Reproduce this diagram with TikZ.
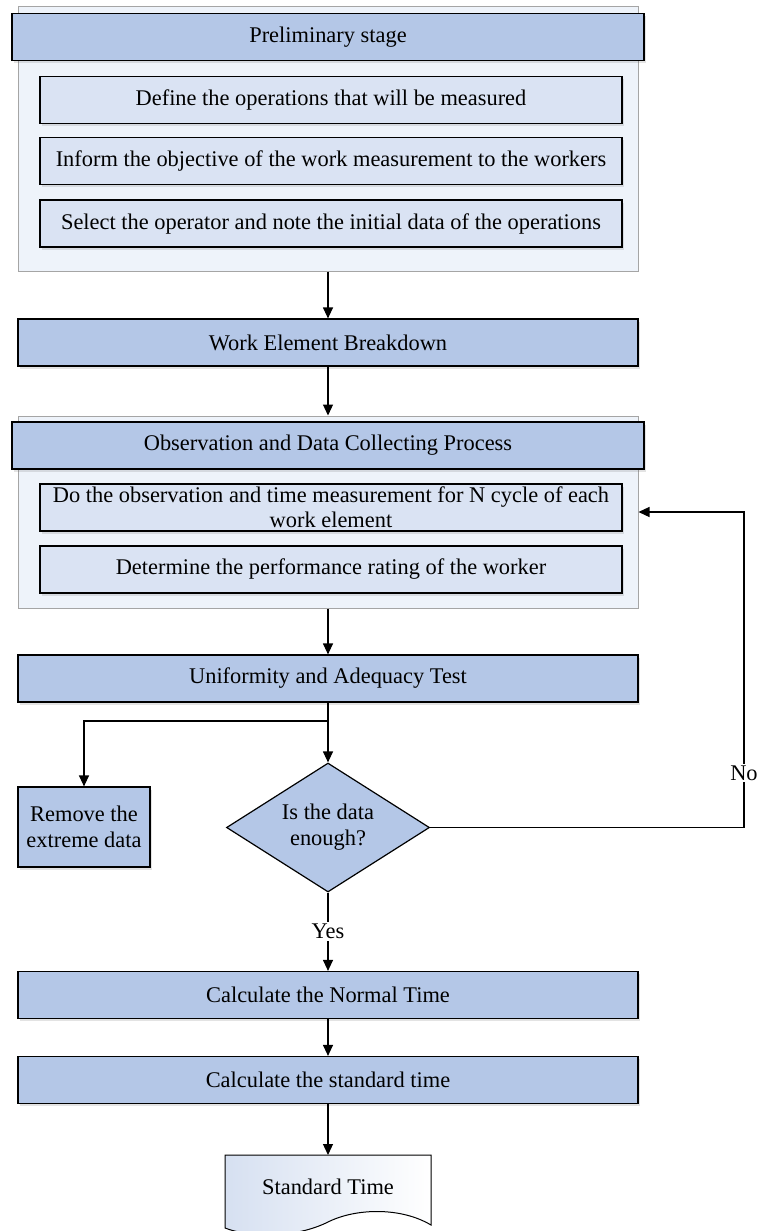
\documentclass[tikz,border=0pt]{standalone}
\usepackage{fontspec}
\setmainfont{Liberation Serif}
\usetikzlibrary{shapes.geometric,arrows.meta,shadows}
\definecolor{mainblue}{RGB}{180,199,231}
\definecolor{subblue}{RGB}{218,227,243}
\definecolor{contfill}{RGB}{238,243,250}
\definecolor{contline}{RGB}{165,165,165}
\definecolor{docblue}{RGB}{214,224,241}
\begin{document}
\begin{tikzpicture}[x=1pt,y=-1pt,
  font=\fontsize{22.4}{26}\selectfont,
  shad/.style={drop shadow={shadow xshift=1.5pt,shadow yshift=-2.5pt,opacity=0.18,fill=black!60}},
  mainbox/.style={draw=black,line width=1.2pt,fill=mainblue,minimum width=620pt,minimum height=47pt,inner sep=0pt,align=center,shad},
  headbox/.style={mainbox,minimum width=632pt},
  subbox/.style={draw=black,line width=1.2pt,fill=subblue,minimum width=582pt,minimum height=47pt,inner sep=0pt,align=center,shad},
  container/.style={draw=contline,line width=1pt,fill=contfill,minimum width=620pt,inner sep=0pt},
  decision/.style={diamond,draw=black,line width=1.2pt,fill=mainblue,minimum width=203pt,minimum height=129pt,inner sep=0pt,aspect=1.57,align=center},
  smallbox/.style={draw=black,line width=1.2pt,fill=mainblue,minimum width=132pt,minimum height=80pt,inner sep=0pt,align=center,shad},
  arr/.style={-{Triangle[length=11pt,width=10pt]},line width=1.2pt},
  ln/.style={line width=1.2pt},
  lbl/.style={fill=white,inner sep=2pt}
]
\useasboundingbox (0,0) rectangle (757,1231);
\fill[white] (0,0) rectangle (757,1231);

% Preliminary stage group
\node[container,minimum height=264pt] (cont1) at (328,139) {};
\node[headbox] (h1) at (328,37) {Preliminary stage};
\node[subbox] (s1a) at (331,100) {Define the operations that will be measured};
\node[subbox] (s1b) at (331,161) {Inform the objective of the work measurement to the workers};
\node[subbox] (s1c) at (331,223.5) {Select the operator and note the initial data of the operations};

\node[mainbox] (we) at (328,342.5) {Work Element Breakdown};

% Observation group
\node[container,minimum height=192pt] (cont2) at (328,512) {};
\node[headbox] (h2) at (328,445.5) {Observation and Data Collecting Process};
\node[subbox] (s2a) at (331,507.5) {Do the observation and time measurement for N cycle of each\\[-1pt]work element};
\node[subbox] (s2b) at (331,569.5) {Determine the performance rating of the worker};

\node[mainbox] (ua) at (328,678.5) {Uniformity and Adequacy Test};
\coordinate (br) at (328,721);
\node[smallbox] (rem) at (84,827) {Remove the\\extreme data};
\node[decision] (dia) at (328,827.5) {Is the data\\enough?};

\node[mainbox] (nt) at (328,995) {Calculate the Normal Time};
\node[mainbox] (st) at (328,1080) {Calculate the standard time};

% Document shape
\coordinate (doctop) at (328,1155);
\draw[line width=1pt,left color=docblue,right color=white]
  (225,1155) -- (431,1155) -- (431,1225)
  .. controls (401,1207) and (356,1208) .. (328,1222)
  .. controls (296,1238) and (251,1238) .. (225,1228) -- cycle;
\node (doc) at (328,1187) {Standard Time};

% connectors
\draw[arr] (cont1.south) -- (we.north);
\draw[arr] (we.south) -- (cont2.north);
\draw[arr] (cont2.south) -- (ua.north);
\draw[ln] (ua.south) -- (br);
\draw[arr] (br) -- (dia.north);
\draw[arr] (br) -| (rem.north);
\draw[arr] (dia.south) -- node[lbl,pos=0.5] (yes) {Yes} (nt.north);
\draw[arr] (nt.south) -- (st.north);
\draw[arr] (st.south) -- (doctop);
\coordinate (fbr) at (744,827.5);
\coordinate (fbt) at (744,512);
\draw[arr] (dia.east) -- (fbr) -- (fbt) -- (cont2.east);
\node[lbl] (no) at (744,773) {No};
\end{tikzpicture}
\end{document}
